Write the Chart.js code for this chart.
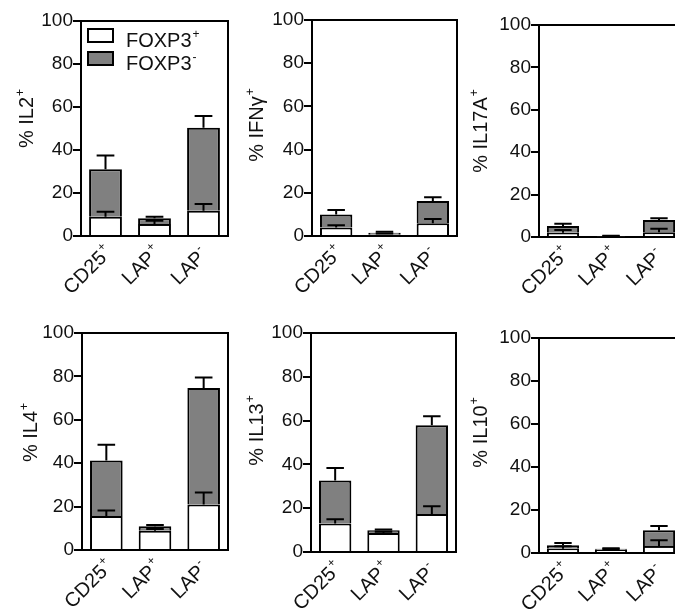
<!DOCTYPE html>
<html>
<head>
<meta charset="utf-8">
<script src="https://cdn.jsdelivr.net/npm/chart.js@4.4.0/dist/chart.umd.min.js"></script>
<style>
  html, body { margin: 0; padding: 0; background: #fff; overflow: hidden; }
  #wrap { position: relative; width: 675px; height: 612px; overflow: hidden; }
  canvas { position: absolute; }
</style>
</head>
<body>
<div id="wrap"></div>
<script>
// ---- data ----
var catBase = ['CD25', 'LAP', 'LAP'];
var catSup = ['+', '+', '-'];
var seriesName = ['FOXP3', 'FOXP3'];
var seriesSup = ['+', '-'];
var yTicks = [0, 20, 40, 60, 80, 100];

// FOXP3+ part (white), FOXP3- part (grey, stacked on top), upper error of each
var il2Pos = [9, 5.6, 11.8];
var il2Neg = [22, 2.6, 38.6];
var il2PosErr = [2.3, 1.5, 3.1];
var il2NegErr = [6.4, 0.8, 5.4];

var ifngPos = [3.9, 0.8, 5.9];
var ifngNeg = [6.1, 0.7, 10.3];
var ifngPosErr = [1.1, 0.4, 2.0];
var ifngNegErr = [2.0, 0.5, 1.7];

var il17aPos = [2, 0.3, 2.2];
var il17aNeg = [3.2, 0.2, 5.8];
var il17aPosErr = [1.3, 0.1, 1.7];
var il17aNegErr = [1.1, 0.1, 0.9];

var il4Pos = [15.7, 8.9, 21];
var il4Neg = [25.5, 2.1, 53.6];
var il4PosErr = [2.5, 0.8, 5.5];
var il4NegErr = [7.3, 0.5, 4.9];

var il13Pos = [13, 8.7, 17.3];
var il13Neg = [19.7, 1.2, 40.6];
var il13PosErr = [2, 0.6, 3.6];
var il13NegErr = [5.6, 0.4, 4.1];

var il10Pos = [2, 1.5, 3.3];
var il10Neg = [1.6, 0.5, 7.3];
var il10PosErr = [1.1, 0.3, 2.6];
var il10NegErr = [1.1, 0.2, 2.0];

var panels = [
    {name: '% IL2', pos: il2Pos, neg: il2Neg, posErr: il2PosErr, negErr: il2NegErr, legend: true},
    {name: '% IFN\u03b3', pos: ifngPos, neg: ifngNeg, posErr: ifngPosErr, negErr: ifngNegErr},
    {name: '% IL17A', pos: il17aPos, neg: il17aNeg, posErr: il17aPosErr, negErr: il17aNegErr},
    {name: '% IL4', pos: il4Pos, neg: il4Neg, posErr: il4PosErr, negErr: il4NegErr},
    {name: '% IL13', pos: il13Pos, neg: il13Neg, posErr: il13PosErr, negErr: il13NegErr},
    {name: '% IL10', pos: il10Pos, neg: il10Neg, posErr: il10PosErr, negErr: il10NegErr}
];

// ---- layout (page pixels) ----
var rowTop = [0, 300];
var rowHeight = [300, 312];
var boxes = [
    {l: 81, r: 228, t: 21, b: 236, row: 0, tdx: -48, tdy: -10},
    {l: 312, r: 457, t: 20, b: 236, row: 0, tdx: -49, tdy: -3},
    {l: 539, r: 683, t: 25, b: 237, row: 0, tdx: -52, tdy: 0},
    {l: 82, r: 228, t: 333, b: 550, row: 1, tdx: -45, tdy: -9},
    {l: 311, r: 456, t: 333, b: 552, row: 1, tdx: -48, tdy: -12},
    {l: 539, r: 683, t: 338, b: 553, row: 1, tdx: -52, tdy: -13}
];

var FONT = '"Liberation Sans", Arial, Helvetica, sans-serif';
var INK = '#111';
var GREY = '#808080';
var Y_AXIS_W = 81;

// text with a small raised suffix; align 'right' puts the main text's end at x
function supText(ctx, main, sup, x, y, size, align) {
    var supSize = Math.round(size * 0.6);
    ctx.font = size + 'px ' + FONT;
    var w1 = ctx.measureText(main).width;
    ctx.font = supSize + 'px ' + FONT;
    var w2 = ctx.measureText(sup).width;
    var x0 = x;
    if (align == 'right') x0 = x - w1;
    else if (align == 'center') x0 = x - (w1 + w2 + 1) / 2;
    ctx.textAlign = 'left';
    ctx.textBaseline = 'alphabetic';
    ctx.fillStyle = INK;
    ctx.font = size + 'px ' + FONT;
    ctx.fillText(main, x0, y);
    ctx.font = supSize + 'px ' + FONT;
    ctx.fillText(sup, x0 + w1 + 1, y - size * 0.45);
}

var decorPlugin = {
    id: 'decor',
    afterDatasetsDraw: function (chart) {
        var ctx = chart.ctx;
        var yScale = chart.scales.y;

        // error bars (upward only)
        ctx.save();
        ctx.strokeStyle = '#000';
        ctx.lineWidth = 2;
        var base = [0, 0, 0];
        chart.data.datasets.forEach(function (ds, d) {
            var meta = chart.getDatasetMeta(d);
            meta.data.forEach(function (bar, i) {
                base[i] += ds.data[i];
                var yTop = yScale.getPixelForValue(base[i]);
                var yCap = yScale.getPixelForValue(base[i] + ds.errors[i]);
                var half = bar.width * 0.27;
                ctx.beginPath();
                ctx.moveTo(bar.x, yTop);
                ctx.lineTo(bar.x, yCap);
                ctx.moveTo(bar.x - half, yCap);
                ctx.lineTo(bar.x + half, yCap);
                ctx.stroke();
            });
        });
        ctx.restore();
    },
    afterDraw: function (chart) {
        var ctx = chart.ctx;
        var area = chart.chartArea;
        var opts = chart.options.plugins.decor;
        var xScale = chart.scales.x;

        // frame top and right
        ctx.save();
        ctx.strokeStyle = '#000';
        ctx.lineWidth = 2;
        ctx.beginPath();
        ctx.moveTo(area.left, area.top);
        ctx.lineTo(area.right, area.top);
        ctx.lineTo(area.right, area.bottom);
        ctx.stroke();

        // category labels, rotated 45 degrees
        for (var i = 0; i < catBase.length; i++) {
            var x = xScale.getPixelForValue(i);
            ctx.save();
            ctx.translate(x + 2, area.bottom + 23);
            ctx.rotate(-Math.PI / 4);
            supText(ctx, catBase[i], catSup[i], 0, 0, 20, 'right');
            ctx.restore();
        }

        // y title
        ctx.save();
        ctx.translate(area.left + opts.tdx, (area.top + area.bottom) / 2 + opts.tdy);
        ctx.rotate(-Math.PI / 2);
        supText(ctx, opts.title, '+', 0, 0, 20, 'center');
        ctx.restore();

        // legend inside the first panel
        if (opts.legend) {
            var fills = chart.data.datasets.map(function (ds) { return ds.backgroundColor; });
            for (var k = 0; k < fills.length; k++) {
                var by = area.top + 8 + k * 23;
                ctx.fillStyle = fills[k];
                ctx.fillRect(area.left + 7, by, 25, 13);
                ctx.strokeRect(area.left + 7, by, 25, 13);
                supText(ctx, seriesName[k], seriesSup[k], area.left + 45, by + 18, 20, 'left');
            }
        }
        ctx.restore();
    }
};

var wrap = document.getElementById('wrap');

panels.forEach(function (p, n) {
    var box = boxes[n];
    var top = rowTop[box.row];
    var h = rowHeight[box.row];
    var padR = 4;
    var canvas = document.createElement('canvas');
    canvas.width = box.r - box.l + Y_AXIS_W + padR;
    canvas.height = h;
    canvas.style.left = (box.l - Y_AXIS_W) + 'px';
    canvas.style.top = top + 'px';
    wrap.appendChild(canvas);

    new Chart(canvas, {
        type: 'bar',
        data: {
            labels: catBase,
            datasets: [
                {label: 'FOXP3+', data: p.pos, errors: p.posErr, backgroundColor: '#fff',
                 borderColor: '#000', borderWidth: 2, barPercentage: 0.67, categoryPercentage: 1},
                {label: 'FOXP3-', data: p.neg, errors: p.negErr, backgroundColor: GREY,
                 borderColor: '#000', borderWidth: 2, barPercentage: 0.67, categoryPercentage: 1}
            ]
        },
        options: {
            responsive: false,
            animation: false,
            devicePixelRatio: 1,
            layout: {padding: {left: 0, top: box.t - top, right: padR, bottom: 0}},
            plugins: {
                legend: {display: false},
                tooltip: {enabled: false},
                decor: {title: p.name, legend: !!p.legend, tdx: box.tdx, tdy: box.tdy}
            },
            scales: {
                x: {
                    stacked: true,
                    offset: true,
                    z: 1,
                    grid: {display: false},
                    border: {color: '#000', width: 2},
                    ticks: {display: false},
                    afterFit: function (s) { s.height = top + h - box.b; }
                },
                y: {
                    stacked: true,
                    min: yTicks[0],
                    max: yTicks[yTicks.length - 1],
                    z: 1,
                    afterBuildTicks: function (s) {
                        s.ticks = yTicks.map(function (v) { return {value: v}; });
                    },
                    ticks: {font: {size: 19, family: FONT}, color: INK, padding: 0},
                    grid: {drawOnChartArea: false, color: '#000', lineWidth: 2, tickLength: 8},
                    border: {color: '#000', width: 2},
                    afterFit: function (s) { s.width = Y_AXIS_W; }
                }
            }
        },
        plugins: [decorPlugin]
    });
});
</script>
</body>
</html>
